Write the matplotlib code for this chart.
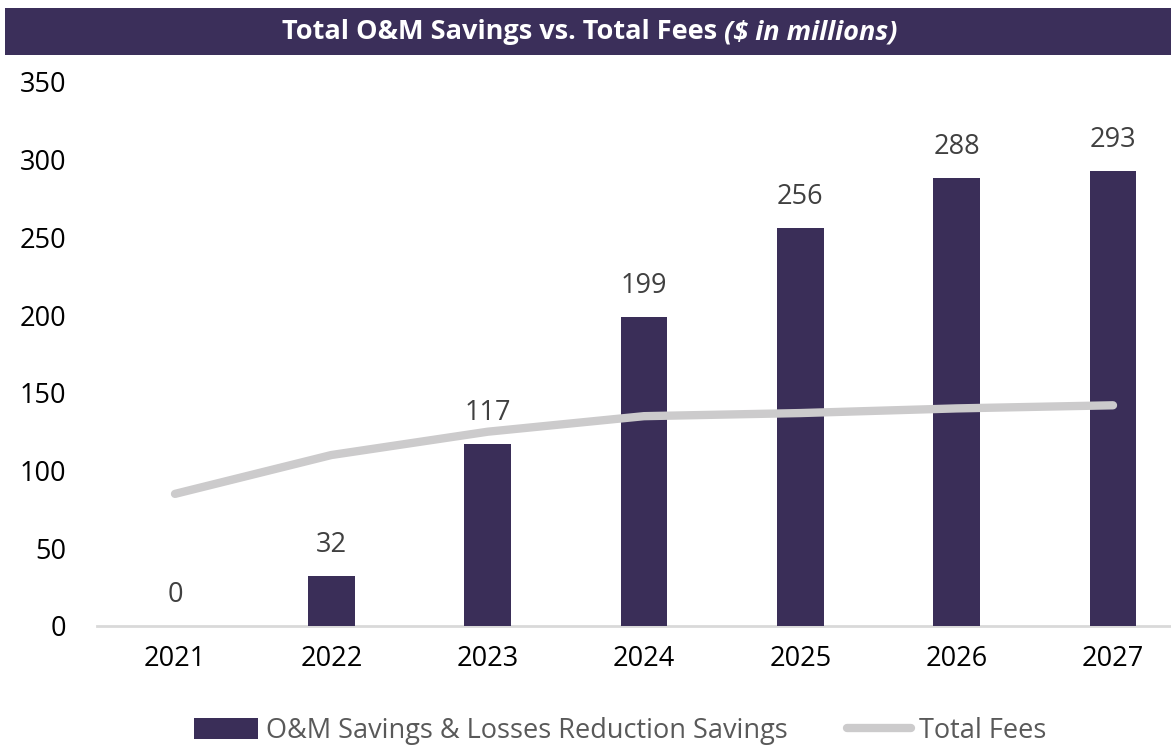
import matplotlib
matplotlib.use("Agg")
import matplotlib.pyplot as plt
from matplotlib.patches import Rectangle
from matplotlib.lines import Line2D
from matplotlib.patches import Patch

years = ["2021", "2022", "2023", "2024", "2025", "2026", "2027"]
savings = [0, 32, 117, 199, 256, 288, 293]
fees = [85, 110, 125, 135, 137, 140, 142]
yticks = [0, 50, 100, 150, 200, 250, 300, 350]

BAR = "#3A2E58"
LINE = "#CCCBCC"
FONT = "Open Sans"
FS = 19.5

W, H = 1171, 746
fig = plt.figure(figsize=(W / 100, H / 100), dpi=100)
plt.rcParams["font.family"] = [FONT, "DejaVu Sans"]

# axes placement in pixels
left, right = 97, 1171
bottom, top = 746 - 626, 746 - 82
ax = fig.add_axes([left / W, bottom / H, (right - left) / W, (top - bottom) / H])

x = list(range(len(years)))
ax.bar(x, savings, width=0.30, color=BAR, zorder=2)
ax.plot(x, fees, color=LINE, lw=6, solid_capstyle="round", solid_joinstyle="round", zorder=3)

for xi, v in zip(x, savings):
    ax.annotate(str(v), (xi, v), xytext=(0, 31), textcoords="offset pixels",
                ha="center", va="center", fontsize=FS, color="#404040", zorder=4)

step = (1113 - 175) / 6
ax.set_xlim(-(175 - left) / step, 6 + (right - 1113) / step)
ax.set_ylim(0, 350)
ax.set_yticks(yticks)
ax.set_xticks(x)
ax.set_xticklabels(years)
ax.tick_params(axis="y", length=0, pad=22, labelsize=FS, labelcolor="#000000")
ax.tick_params(axis="x", length=0, pad=14, labelsize=FS, labelcolor="#000000")
for s in ["top", "right", "left"]:
    ax.spines[s].set_visible(False)
ax.spines["bottom"].set_color("#D9D9D9")
ax.spines["bottom"].set_linewidth(2)
ax.spines["bottom"].set_zorder(1)

# title bar
fig.patches.append(Rectangle((5 / W, 1 - 55 / H), 1 - 5 / W, 47 / H, transform=fig.transFigure,
                             facecolor="#3B2F5A", edgecolor="none", zorder=0))
ty = 1 - 32 / H
t1 = fig.text(0, ty, "Total O&M Savings vs. Total Fees ", color="white", fontsize=19.5,
              fontweight="bold", ha="left", va="center")
t2 = fig.text(0, ty, "($ in millions)", color="white", fontsize=19.5, fontweight="bold",
              fontstyle="italic", ha="left", va="center")
fig.canvas.draw()
r = fig.canvas.get_renderer()
w1 = t1.get_window_extent(r).width
w2 = t2.get_window_extent(r).width
start = 590 - (w1 + w2) / 2
t1.set_x(start / W)
t2.set_x((start + w1) / W)

# legend
handles = [Patch(facecolor=BAR, edgecolor="none"),
           Line2D([0], [0], color=LINE, lw=6, solid_capstyle="round")]
labels = ["O&M Savings & Losses Reduction Savings", "Total Fees"]
leg = fig.legend(handles, labels, loc="center", bbox_to_anchor=(620 / W, 1 - 731 / H),
                 ncol=2, frameon=False, fontsize=FS, handlelength=2.35, handleheight=0.8,
                 handletextpad=0.3, columnspacing=2.2, labelcolor="#595959")

fig.savefig("out.png", dpi=100)
